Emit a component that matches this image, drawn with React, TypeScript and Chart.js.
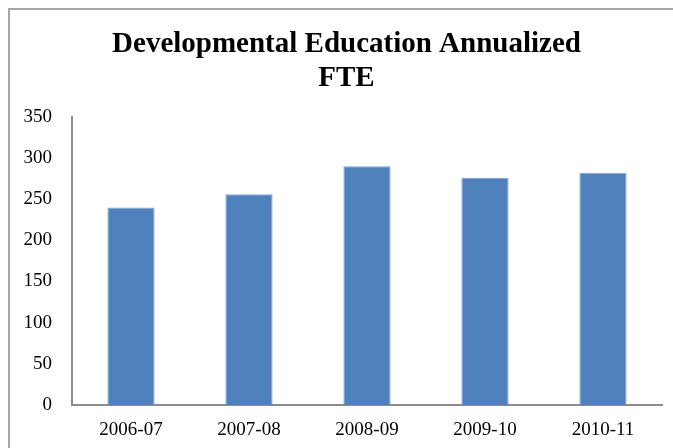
import React, { useEffect, useRef } from "react";
import { Chart, registerables } from "chart.js";

Chart.register(...registerables);

const titleLines = ["Developmental Education Annualized", "FTE"];
const categories = ["2006-07", "2007-08", "2008-09", "2009-10", "2010-11"];
const fteValues = [240, 256, 290, 276, 282];
const yMin = 0;
const yMax = 350;
const yStep = 50;

const SERIF = "'Liberation Serif', 'Times New Roman', serif";

const titleShift = {
  id: "titleShift",
  afterLayout(chart: any) {
    if (chart.titleBlock) {
      chart.titleBlock.left = 21;
    }
  },
};

export default function App() {
  const ref = useRef<HTMLCanvasElement | null>(null);

  useEffect(() => {
    if (!ref.current) return;
    const chart = new Chart(ref.current, {
      type: "bar",
      data: {
        labels: categories,
        datasets: [
          {
            label: "FTE",
            data: fteValues,
            backgroundColor: "#4F81BD",
            borderColor: "#7FA3D0",
            borderWidth: 1,
            borderSkipped: "bottom",
            categoryPercentage: 1,
            barPercentage: 0.4,
          },
        ],
      },
      plugins: [titleShift],
      options: {
        responsive: false,
        animation: false,
        layout: { padding: { top: 0, left: 0, right: 11, bottom: 0 } },
        plugins: {
          legend: { display: false },
          tooltip: { enabled: false },
          title: {
            display: true,
            text: titleLines,
            color: "#000",
            font: { family: SERIF, size: 29, weight: "bold", lineHeight: 1.17 },
            padding: { top: 18, bottom: 21 },
          },
        },
        scales: {
          x: {
            grid: { display: false, drawTicks: false },
            border: { display: true, color: "#8c8c8c", width: 2 },
            ticks: {
              color: "#000",
              padding: 14,
              font: { family: SERIF, size: 19 },
            },
            afterFit: (s: any) => {
              s.height = 43;
            },
          },
          y: {
            min: yMin,
            max: yMax,
            grid: { display: false, drawTicks: false },
            border: { display: true, color: "#8c8c8c", width: 2 },
            ticks: {
              stepSize: yStep,
              color: "#000",
              padding: 20,
              font: { family: SERIF, size: 19 },
            },
            afterFit: (s: any) => {
              s.width = 62;
            },
          },
        },
      },
    });
    return () => chart.destroy();
  }, []);

  return (
    <div
      style={{
        position: "fixed",
        left: 8,
        top: 8,
        width: 700,
        height: 470,
        borderLeft: "2px solid #a6a6a6",
        borderTop: "2px solid #a6a6a6",
        background: "#fff",
      }}
    >
      <canvas ref={ref} width={663} height={438} style={{ display: "block" }} />
    </div>
  );
}
